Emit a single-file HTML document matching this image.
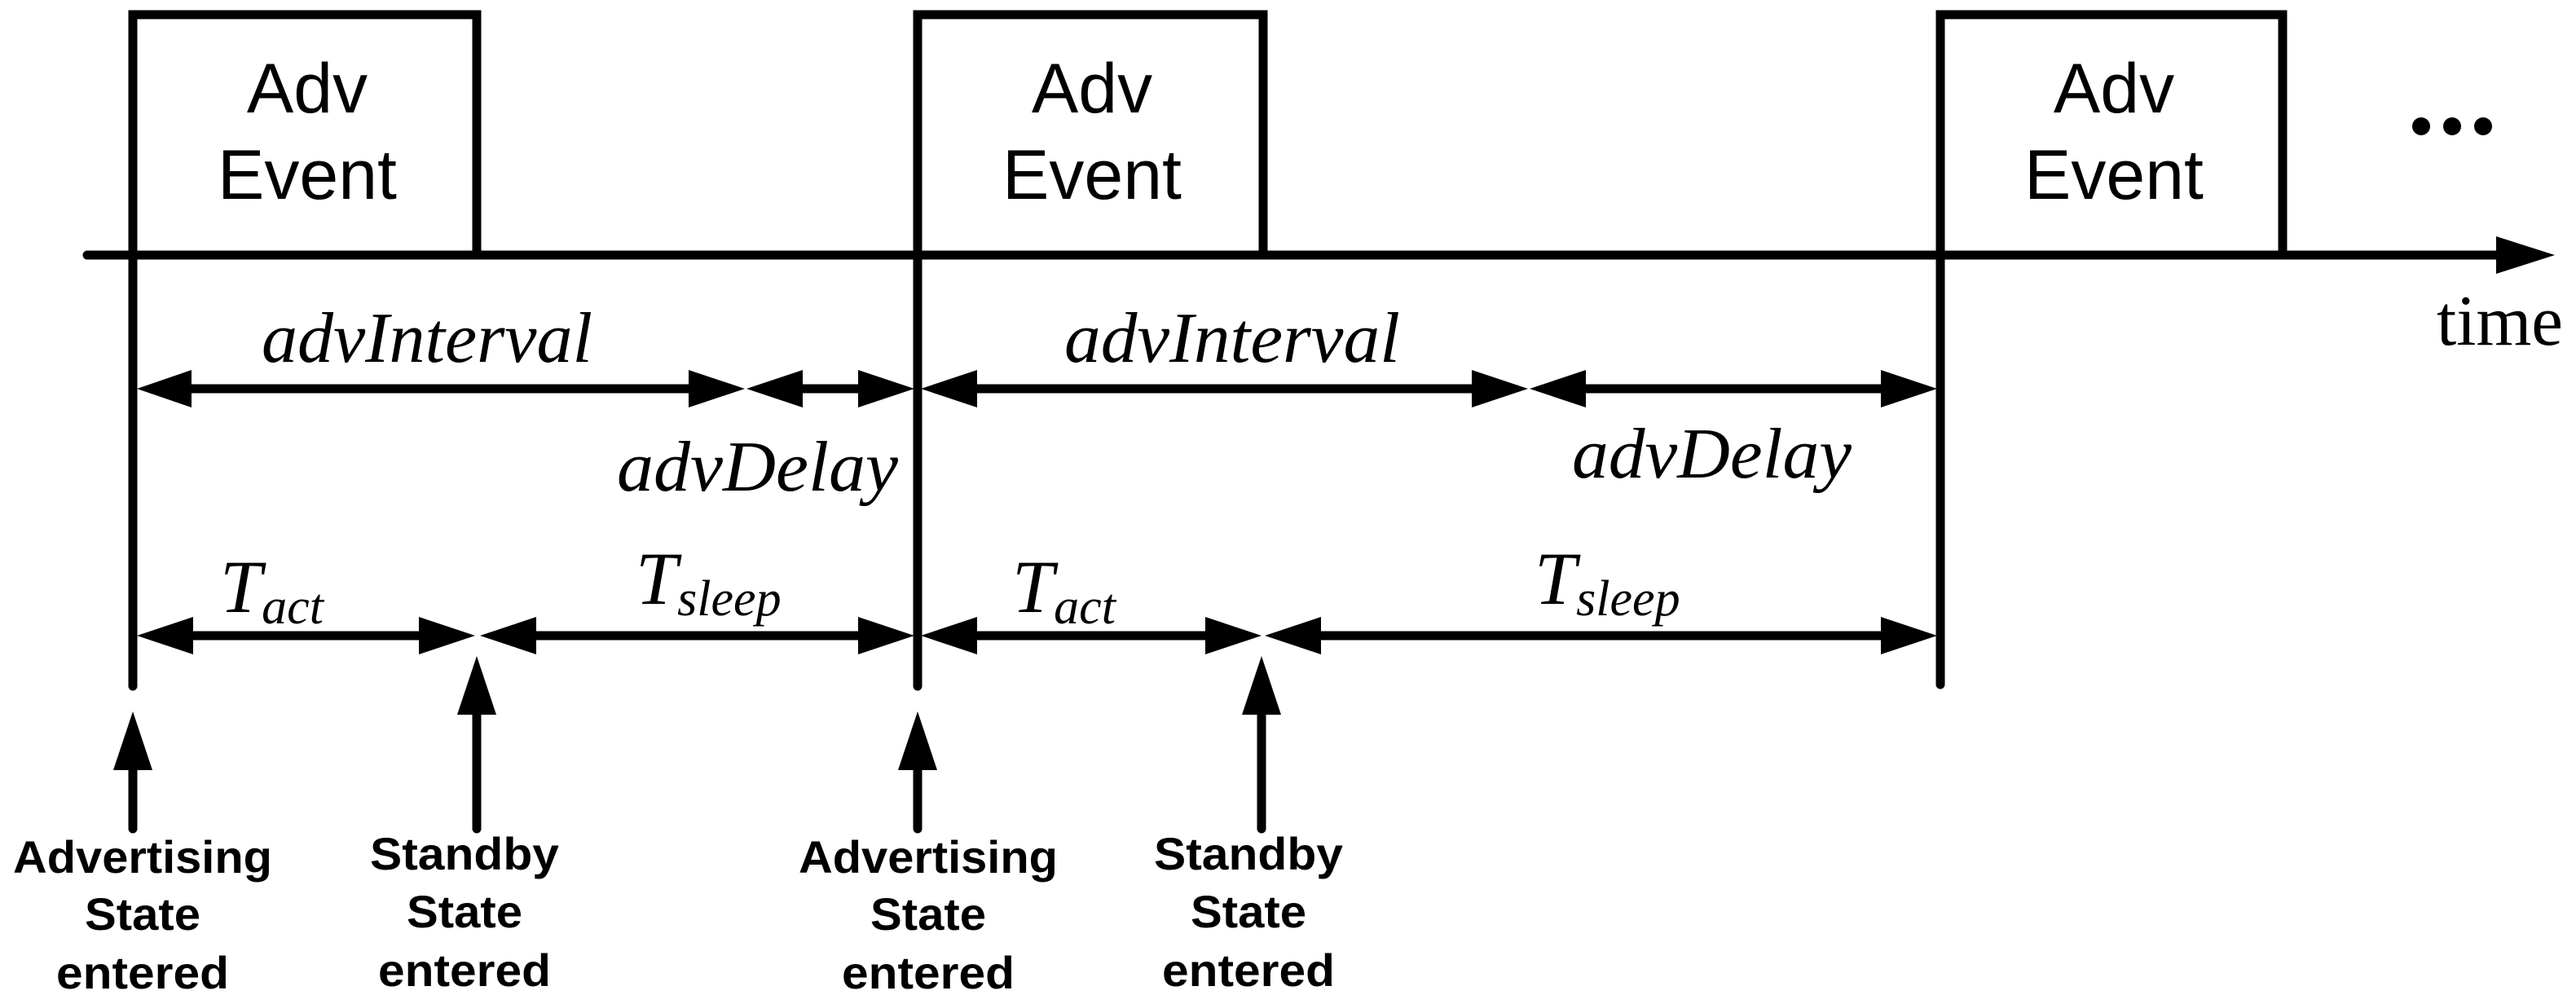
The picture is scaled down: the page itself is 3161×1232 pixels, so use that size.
<!DOCTYPE html>
<html><head><meta charset="utf-8"><style>html,body{margin:0;padding:0;background:#fff}svg{display:block}</style></head>
<body>
<svg width="3161" height="1232" viewBox="0 0 3161 1232" xmlns="http://www.w3.org/2000/svg">
<g stroke="#000" stroke-width="11" fill="none" stroke-linecap="round">
<line x1="107" y1="313" x2="3070" y2="313"/>
<polyline points="163,313 163,18 585,18 585,313"/>
<polyline points="1126,313 1126,18 1550,18 1550,313"/>
<polyline points="2381,313 2381,18 2801,18 2801,313"/>
<line x1="163" y1="313" x2="163" y2="842"/>
<line x1="1126" y1="313" x2="1126" y2="842"/>
<line x1="2381" y1="313" x2="2381" y2="840"/>
<line x1="163" y1="930" x2="163" y2="1017"/>
<line x1="585" y1="865" x2="585" y2="1017"/>
<line x1="1126" y1="930" x2="1126" y2="1017"/>
<line x1="1548" y1="865" x2="1548" y2="1017"/>
</g>
<g fill="#000">
<path d="M3135,313 L3063,290 L3063,336 Z"/>
<path d="M163,873 L139,945 L187,945 Z"/>
<path d="M585,805 L561,877 L609,877 Z"/>
<path d="M1126,873 L1102,945 L1150,945 Z"/>
<path d="M1548,805 L1524,877 L1572,877 Z"/>
<circle cx="2971" cy="155" r="11"/><circle cx="3009" cy="155" r="11"/><circle cx="3047" cy="155" r="11"/>
</g>
<g stroke="#000" stroke-width="11">
<line x1="230" y1="477" x2="850" y2="477"/>
<line x1="980" y1="477" x2="1058" y2="477"/>
<line x1="1194" y1="477" x2="1808" y2="477"/>
<line x1="1942" y1="477" x2="2313" y2="477"/>
<line x1="230" y1="780" x2="518" y2="780"/>
<line x1="652" y1="780" x2="1058" y2="780"/>
<line x1="1194" y1="780" x2="1485" y2="780"/>
<line x1="1620" y1="780" x2="2313" y2="780"/>
</g>
<g fill="#000">
<path d="M168,477 L235,454 L235,500 Z"/>
<path d="M914,477 L845,454 L845,500 Z"/>
<path d="M916,477 L985,454 L985,500 Z"/>
<path d="M1122,477 L1053,454 L1053,500 Z"/>
<path d="M1130,477 L1199,454 L1199,500 Z"/>
<path d="M1875,477 L1806,454 L1806,500 Z"/>
<path d="M1877,477 L1946,454 L1946,500 Z"/>
<path d="M2377,477 L2308,454 L2308,500 Z"/>
<path d="M168,780 L237,757 L237,803 Z"/>
<path d="M583,780 L514,757 L514,803 Z"/>
<path d="M589,780 L658,757 L658,803 Z"/>
<path d="M1122,780 L1053,757 L1053,803 Z"/>
<path d="M1130,780 L1199,757 L1199,803 Z"/>
<path d="M1548,780 L1479,757 L1479,803 Z"/>
<path d="M1552,780 L1621,757 L1621,803 Z"/>
<path d="M2377,780 L2308,757 L2308,803 Z"/>
</g>
<g font-family="Liberation Sans, sans-serif" font-size="86" text-anchor="middle" fill="#000">
<text x="377" y="138">Adv</text><text x="377" y="244">Event</text>
<text x="1340" y="138">Adv</text><text x="1340" y="244">Event</text>
<text x="2594" y="138">Adv</text><text x="2594" y="244">Event</text>
</g>
<g font-family="Liberation Serif, serif" font-style="italic" font-size="88" fill="#000">
<text x="321" y="444" textLength="406" lengthAdjust="spacingAndGlyphs">advInterval</text>
<text x="1306" y="444" textLength="412" lengthAdjust="spacingAndGlyphs">advInterval</text>
<text x="757" y="602" textLength="345" lengthAdjust="spacingAndGlyphs">advDelay</text>
<text x="1929" y="586" textLength="343" lengthAdjust="spacingAndGlyphs">advDelay</text>
<text x="270" y="751" font-size="92">T<tspan font-size="62" dy="14">act</tspan></text>
<text x="780" y="741" font-size="92">T<tspan font-size="62" dy="14">sleep</tspan></text>
<text x="1242" y="751" font-size="92">T<tspan font-size="62" dy="14">act</tspan></text>
<text x="1883" y="741" font-size="92">T<tspan font-size="62" dy="14">sleep</tspan></text>
</g>
<text x="2990" y="423" font-family="Liberation Serif, serif" font-size="88" textLength="155" lengthAdjust="spacingAndGlyphs">time</text>
<g font-family="Liberation Sans, sans-serif" font-weight="bold" font-size="56" text-anchor="middle" fill="#000">
<text x="175" y="1071" textLength="318" lengthAdjust="spacingAndGlyphs">Advertising</text>
<text x="175" y="1141" textLength="142" lengthAdjust="spacingAndGlyphs">State</text>
<text x="175" y="1213" textLength="212" lengthAdjust="spacingAndGlyphs">entered</text>
<text x="570" y="1067" textLength="232" lengthAdjust="spacingAndGlyphs">Standby</text>
<text x="570" y="1138" textLength="142" lengthAdjust="spacingAndGlyphs">State</text>
<text x="570" y="1210" textLength="212" lengthAdjust="spacingAndGlyphs">entered</text>
<text x="1139" y="1071" textLength="318" lengthAdjust="spacingAndGlyphs">Advertising</text>
<text x="1139" y="1141" textLength="142" lengthAdjust="spacingAndGlyphs">State</text>
<text x="1139" y="1213" textLength="212" lengthAdjust="spacingAndGlyphs">entered</text>
<text x="1532" y="1067" textLength="232" lengthAdjust="spacingAndGlyphs">Standby</text>
<text x="1532" y="1138" textLength="142" lengthAdjust="spacingAndGlyphs">State</text>
<text x="1532" y="1210" textLength="212" lengthAdjust="spacingAndGlyphs">entered</text>
</g>
</svg>
</body></html>
